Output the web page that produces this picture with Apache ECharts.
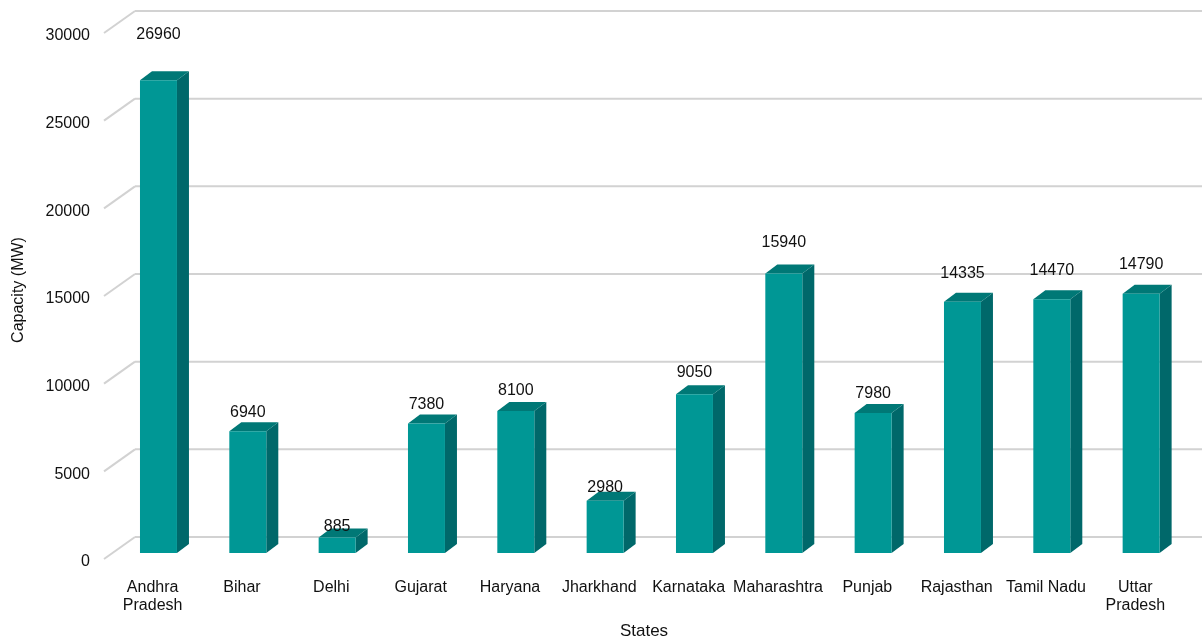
<!DOCTYPE html>
<html>
<head>
<meta charset="utf-8">
<script src="https://cdn.jsdelivr.net/npm/echarts@6/dist/echarts.min.js"></script>
<style>
html,body{margin:0;padding:0;background:#fff;}
#chart{width:1202px;height:642px;}
</style>
</head>
<body>
<div id="chart"></div>
<script>
const categories = ['Andhra\nPradesh','Bihar','Delhi','Gujarat','Haryana','Jharkhand','Karnataka','Maharashtra','Punjab','Rajasthan','Tamil Nadu','Uttar\nPradesh'];
const capacity = [26960,6940,885,7380,8100,2980,9050,15940,7980,14335,14470,14790];
const yTicks = [0,5000,10000,15000,20000,25000,30000];

const FONT = '"Liberation Sans", Arial, sans-serif';
const chart = echarts.init(document.getElementById('chart'));

function renderGrid(params, api) {
  const v = api.value(0);
  const y = api.coord([0, v])[1];
  const cs = params.coordSys;
  const lineStyle = {stroke:'#d2d2d2', lineWidth:2};
  return {type:'group', children:[
    {type:'line', shape:{x1:cs.x-4, y1:y+6, x2:cs.x+27, y2:y-16}, style:lineStyle},
    {type:'line', shape:{x1:cs.x+27, y1:y-16, x2:cs.x+cs.width+22, y2:y-16}, style:lineStyle}
  ]};
}

function renderBar(params, api) {
  const idx = api.value(0);
  const val = api.value(1);
  const top = api.coord([idx, val]);
  const base = api.coord([idx, 0]);
  const band = api.size([1, 0])[0];
  const cx = top[0] + band * 0.065;
  const w = band * 0.414;
  const x1 = cx - w / 2, x2 = cx + w / 2;
  const yt = top[1], yb = base[1];
  const dx = 12, dy = 9;
  const labelY = yb + (yt - yb) * 1.076 - 9.3;
  return {type:'group', children:[
    {type:'polygon', shape:{points:[[x2,yt],[x2+dx,yt-dy],[x2+dx,yb-dy],[x2,yb]]}, style:{fill:'#00686a'}},
    {type:'polygon', shape:{points:[[x1,yt],[x1+dx,yt-dy],[x2+dx,yt-dy],[x2,yt]]}, style:{fill:'#007876'}},
    {type:'rect', shape:{x:x1, y:yt, width:w, height:yb-yt}, style:{fill:'#009795'}},
    {type:'text', x:cx, y:labelY, style:{text:String(val), fill:'#111', font:'16px ' + FONT, align:'center', verticalAlign:'middle'}}
  ]};
}

chart.setOption({
  backgroundColor:'#fff',
  animation:false,
  grid:{left:108, right:22, top:27, bottom:89, containLabel:false, outerBoundsMode:'none'},
  xAxis:{
    type:'category', data:categories,
    axisLine:{show:false}, axisTick:{show:false},
    axisLabel:{fontSize:16, fontFamily:FONT, color:'#111', margin:26, lineHeight:18, interval:0},
    name:'States', nameLocation:'middle', nameGap:70,
    nameTextStyle:{fontSize:17, fontFamily:FONT, color:'#111'}
  },
  yAxis:{
    type:'value', min:0, max:30000, interval:5000,
    axisLine:{show:false}, axisTick:{show:false}, splitLine:{show:false},
    axisLabel:{fontSize:16, fontFamily:FONT, color:'#111', margin:18, verticalAlign:'top', lineHeight:18, formatter:(v)=>String(v)},
    name:'Capacity (MW)', nameLocation:'middle', nameGap:81,
    nameTextStyle:{fontSize:16, fontFamily:FONT, color:'#111', padding:[0,0,0,0]}
  },
  series:[
    {type:'custom', z:1, silent:true, renderItem:renderGrid, data:yTicks.map(v=>[v]), encode:{y:0}},
    {type:'custom', z:2, renderItem:renderBar, data:capacity.map((v,i)=>[i,v]), encode:{x:0, y:1}}
  ]
});
</script>
</body>
</html>
